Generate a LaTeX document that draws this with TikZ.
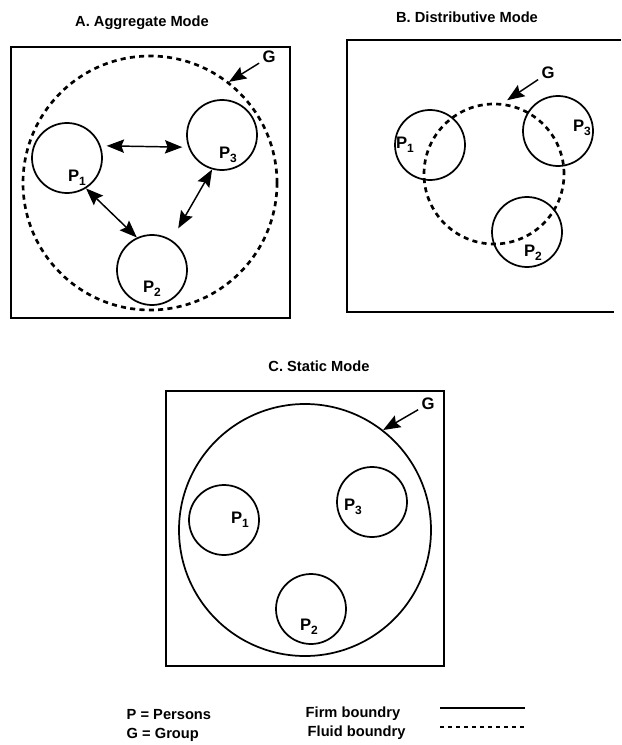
\documentclass[tikz,border=0pt]{standalone}
\usepackage{fontspec}
\setmainfont{Liberation Sans}
\usetikzlibrary{arrows.meta}
\newcommand{\pers}[1]{P\raisebox{-.4ex}{\fontsize{9}{10}\selectfont #1}}

\begin{document}
\begin{tikzpicture}[x=.75pt,y=-.75pt,>={Stealth[length=13pt,width=10pt,inset=2pt]},line width=1.1pt,
  font=\fontsize{11}{13}\selectfont\bfseries,
  person/.style={circle,draw,line width=1.3pt,minimum size=52.5pt,inner sep=0pt},
  grp/.style={circle,draw,line width=1.3pt,inner sep=0pt},
  fluid/.style={dash pattern=on 3.8pt off 3.2pt,line width=2pt},
  lbl/.style={font=\fontsize{12.5}{14}\selectfont\bfseries,inner sep=0pt},
  key/.style={anchor=west,inner sep=0pt}]
  \useasboundingbox (0,0) rectangle (621,745);
  % A. aggregate mode
  \node (tA) at (142,23) {A. Aggregate Mode};
  \draw (11,47) rectangle (290,318);
  \node[grp,fluid,minimum size=190.5pt] (gA) at (150,183) {};
  \node[person] (a1) at (67,158) {};
  \node[person] (a3) at (222,135) {};
  \node[person] (a2) at (152,270) {};
  \node[lbl] (la1) at (77,178) {\pers1};
  \node[lbl] (la3) at (228,155) {\pers3};
  \node[lbl] (la2) at (152,289) {\pers2};
  \draw[<->,shorten <=4.5pt,shorten >=4.5pt] (a1.20) -- (a3.200);
  \draw[<->] (a1.-58) -- (a2.115);
  \draw[<->,shorten >=10pt] (a3.-106) -- (a2.57);
  \node[lbl,inner sep=2pt] (glA) at (269,57) {G};
  \draw[->] (glA) -- (gA.52);
  % B. distributive mode
  \node (tB) at (467,17) {B. Distributive Mode};
  \draw (621,40) -- (347,40) -- (347,312) -- (614,312);
  \node[person] (b1) at (430,145) {};
  \node[person] (b3) at (558,131) {};
  \node[person] (b2) at (527,232) {};
  \node[grp,fluid,minimum size=105pt] (gB) at (494,174) {};
  \node[lbl] (lb1) at (405,145) {\pers1};
  \node[lbl] (lb3) at (582,128) {\pers3};
  \node[lbl] (lb2) at (533,253) {\pers2};
  \node[lbl,inner sep=2pt] (glB) at (548,73) {G};
  \draw[->,shorten >=4pt] (glB) -- (gB.83);
  % C. static mode
  \node (tC) at (319,366) {C. Static Mode};
  \draw (166,391) rectangle (444,666);
  \node[grp,minimum size=189pt] (gC) at (305,530) {};
  \node[person] (c1) at (224,520) {};
  \node[person] (c3) at (372,502) {};
  \node[person] (c2) at (311,609) {};
  \node[lbl] (lc1) at (240,520) {\pers1};
  \node[lbl] (lc3) at (353,507) {\pers3};
  \node[lbl] (lc2) at (309,627) {\pers2};
  \node[lbl,inner sep=2pt] (glC) at (428,404) {G};
  \draw[->] (glC) -- (gC.52);
  % legend
  \node[key] (kP) at (126,715) {P = Persons};
  \node[key] (kG) at (126,735) {G = Group};
  \node[key] (kfirm) at (305,714) {Firm boundry};
  \node[key] (kfluid) at (307,733) {Fluid boundry};
  \coordinate (s0) at (440,708); \coordinate (s1) at (525,708);
  \coordinate (d0) at (440,727); \coordinate (d1) at (525,727);
  \draw (s0) -- (s1);
  \draw[dash pattern=on 3pt off 3pt,line width=1.4pt] (d0) -- (d1);
\end{tikzpicture}
\end{document}
